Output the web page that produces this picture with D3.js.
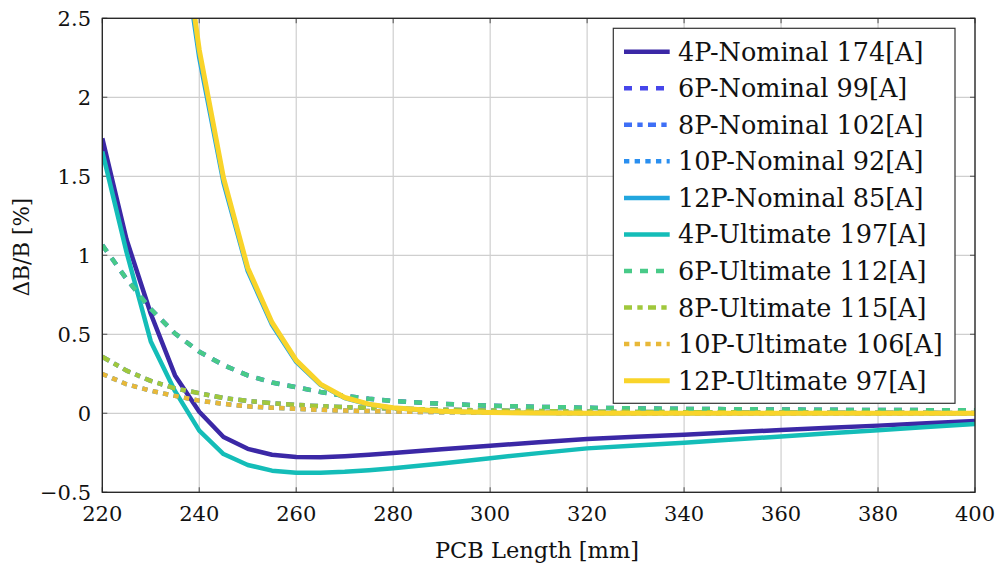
<!DOCTYPE html>
<html>
<head>
<meta charset="utf-8">
<script src="https://cdnjs.cloudflare.com/ajax/libs/d3/7.8.5/d3.min.js"></script>
<style>
  html, body { margin: 0; padding: 0; background: #fff; }
  svg { display: block; }
  text { font-family: "DejaVu Serif", serif; fill: #111; }
</style>
</head>
<body>
<svg id="chart" width="999" height="568"></svg>
<script>
// ---------------- DATA ----------------
const pcbLength = [220,225,230,235,240,245,250,255,260,265,270,275,280,290,300,310,320,330,340,350,360,370,380,390,400];

const nom4P  = [1.74,1.10,0.63,0.24,0.01,-0.15,-0.225,-0.262,-0.277,-0.278,-0.272,-0.263,-0.252,-0.228,-0.205,-0.183,-0.162,-0.148,-0.135,-0.12,-0.106,-0.092,-0.078,-0.063,-0.048];
const nom6P  = [1.065,0.85,0.66,0.505,0.39,0.305,0.24,0.195,0.165,0.135,0.11,0.092,0.078,0.06,0.048,0.041,0.035,0.031,0.028,0.026,0.024,0.022,0.021,0.02,0.019];
const nom8P  = [0.358,0.27,0.205,0.158,0.127,0.097,0.078,0.064,0.053,0.045,0.039,0.034,0.03,0.023,0.018,0.014,0.011,0.009,0.007,0.006,0.005,0.004,0.003,0.003,0.002];
const nom10P = [0.249,0.184,0.143,0.11,0.08,0.06,0.044,0.035,0.028,0.022,0.017,0.014,0.011,0.007,0.005,0.003,0.002,0.001,0.001,0.001,0,0,0,0,0];
const nom12P = [null,null,null,3.3,2.25,1.46,0.9,0.56,0.325,0.18,0.097,0.056,0.034,0.012,0.005,0.002,0.001,0,0,0,0,0,0,0,0];

const ult4P  = [1.656,1.02,0.455,0.14,-0.11,-0.258,-0.327,-0.363,-0.376,-0.376,-0.37,-0.36,-0.348,-0.318,-0.284,-0.252,-0.222,-0.204,-0.186,-0.166,-0.147,-0.127,-0.107,-0.087,-0.068];
const ult6P  = [1.065,0.85,0.66,0.505,0.39,0.305,0.24,0.195,0.165,0.135,0.11,0.092,0.078,0.06,0.048,0.041,0.035,0.031,0.028,0.026,0.024,0.022,0.021,0.02,0.019];
const ult8P  = [0.358,0.27,0.205,0.158,0.127,0.097,0.078,0.064,0.053,0.045,0.039,0.034,0.03,0.023,0.018,0.014,0.011,0.009,0.007,0.006,0.005,0.004,0.003,0.003,0.002];
const ult10P = [0.249,0.184,0.143,0.11,0.08,0.06,0.044,0.035,0.028,0.022,0.017,0.014,0.011,0.007,0.005,0.003,0.002,0.001,0.001,0.001,0,0,0,0,0];
const ult12P = [null,null,null,3.4,2.3,1.49,0.92,0.575,0.335,0.185,0.1,0.058,0.035,0.013,0.005,0.002,0.001,0,0,0,0,0,0,0,0];

const seriesNames = [
  "4P-Nominal 174[A]","6P-Nominal 99[A]","8P-Nominal 102[A]","10P-Nominal 92[A]","12P-Nominal 85[A]",
  "4P-Ultimate 197[A]","6P-Ultimate 112[A]","8P-Ultimate 115[A]","10P-Ultimate 106[A]","12P-Ultimate 97[A]"
];
const seriesValues = [nom4P, nom6P, nom8P, nom10P, nom12P, ult4P, ult6P, ult8P, ult10P, ult12P];

const xTicks = [220,240,260,280,300,320,340,360,380,400];
const yTicks = [-0.5,0,0.5,1,1.5,2,2.5];
const yTickLabels = ["\u22120.5","0","0.5","1","1.5","2","2.5"];

const xLabel = "PCB Length [mm]";
const yLabel = "\u0394B/B [%]";

// ---------------- STYLE ----------------
const colors = ["#3b28a6","#4646ea","#3e6ff6","#2a8ff0","#22a6de","#14bdb8","#48ca88","#a0c83c","#e8b838","#f9d42a"];
const dashes = [null,"8 8","8 5.33 5.33 5.33","5.33 5.33",null,null,"8 8","8 5.33 5.33 5.33","5.33 5.33",null];

// ---------------- LAYOUT ----------------
const svg = d3.select("#chart");
const X0 = 102.3, X1 = 975, Y0 = 18.3, Y1 = 492.3;
const x = d3.scaleLinear().domain([220,400]).range([X0,X1]);
const y = d3.scaleLinear().domain([-0.5,2.5]).range([Y1,Y0]);

// grid
const grid = svg.append("g");
grid.selectAll("line.vx").data(xTicks).join("line")
  .attr("x1", d=>x(d)).attr("x2", d=>x(d)).attr("y1", Y0).attr("y2", Y1)
  .attr("stroke", "#cfcfcf").attr("stroke-width", 1.2);
grid.selectAll("line.hy").data(yTicks).join("line")
  .attr("x1", X0).attr("x2", X1).attr("y1", d=>y(d)).attr("y2", d=>y(d))
  .attr("stroke", "#cfcfcf").attr("stroke-width", 1.2);

// inward ticks on all sides
const tk = svg.append("g").attr("stroke","#666").attr("stroke-width",1.2);
const TL = 5;
xTicks.forEach(v => {
  tk.append("line").attr("x1",x(v)).attr("x2",x(v)).attr("y1",Y1).attr("y2",Y1-TL);
  tk.append("line").attr("x1",x(v)).attr("x2",x(v)).attr("y1",Y0).attr("y2",Y0+TL);
});
yTicks.forEach(v => {
  tk.append("line").attr("x1",X0).attr("x2",X0+TL).attr("y1",y(v)).attr("y2",y(v));
  tk.append("line").attr("x1",X1).attr("x2",X1-TL).attr("y1",y(v)).attr("y2",y(v));
});

// clip
svg.append("defs").append("clipPath").attr("id","clip")
  .append("rect").attr("x",X0).attr("y",Y0).attr("width",X1-X0).attr("height",Y1-Y0);

const line = d3.line()
  .defined(d => d[1] !== null)
  .x(d => x(d[0])).y(d => y(d[1]));

const plot = svg.append("g").attr("clip-path","url(#clip)");
seriesValues.forEach((vals, i) => {
  const pts = pcbLength.map((xv, j) => [xv, vals[j]]);
  plot.append("path")
    .attr("d", line(pts))
    .attr("fill","none")
    .attr("stroke", colors[i])
    .attr("stroke-width", i === 9 ? 5 : 4.5)
    .attr("stroke-dasharray", dashes[i])
    .attr("stroke-linejoin","round");
});

// frame
svg.append("rect").attr("x",X0).attr("y",Y0).attr("width",X1-X0).attr("height",Y1-Y0)
  .attr("fill","none").attr("stroke","#222").attr("stroke-width",1.3);

// tick labels
svg.append("g").selectAll("text").data(xTicks).join("text")
  .attr("x", d=>x(d)).attr("y", 521)
  .attr("text-anchor","middle").attr("font-size", 21)
  .text(d=>d);
svg.append("g").selectAll("text").data(yTicks).join("text")
  .attr("x", 91).attr("y", d=>y(d)+7.5)
  .attr("text-anchor","end").attr("font-size", 21)
  .text((d,i)=>yTickLabels[i]);

// axis labels
svg.append("text").attr("x", 537).attr("y", 558)
  .attr("text-anchor","middle").attr("font-size", 22.5).attr("fill","#333").text(xLabel);
svg.append("text").attr("transform","translate(29,247) rotate(-90)")
  .attr("text-anchor","middle").attr("font-size", 21.5).attr("fill","#333").text(yLabel);

// legend
const LX0 = 613.3, LX1 = 955, LY0 = 28.3, LY1 = 403.3;
const lg = svg.append("g");
lg.append("rect").attr("x",LX0).attr("y",LY0).attr("width",LX1-LX0).attr("height",LY1-LY0)
  .attr("fill","#fff").attr("stroke","#333").attr("stroke-width",1.2);
seriesNames.forEach((name, i) => {
  const cy = 51.7 + i*36.55;
  lg.append("line").attr("x1",624).attr("x2",669.7).attr("y1",cy).attr("y2",cy)
    .attr("stroke",colors[i]).attr("stroke-width", i === 9 ? 5 : 4.5)
    .attr("stroke-dasharray", dashes[i]);
  lg.append("text").attr("x",678).attr("y",cy+9).attr("font-size",25.5).text(name);
});
</script>
</body>
</html>
